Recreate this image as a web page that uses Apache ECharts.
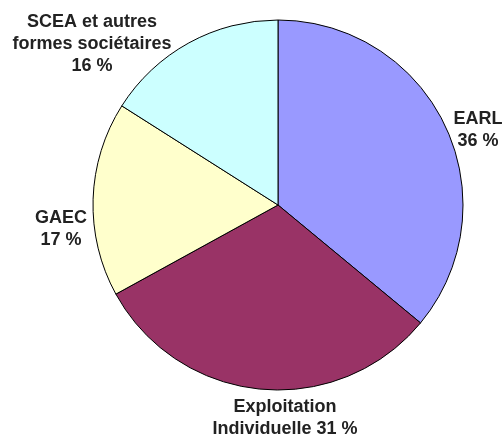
<!DOCTYPE html>
<html>
<head>
<meta charset="utf-8">
<script src="https://cdn.jsdelivr.net/npm/echarts@6/dist/echarts.min.js"></script>
<style>
  html, body { margin: 0; padding: 0; background: #fff; }
  #chart { width: 503px; height: 437px; }
</style>
</head>
<body>
<div id="chart"></div>
<script>
// données
var categories = ["EARL", "Exploitation\nIndividuelle", "GAEC", "SCEA et autres\nformes sociétaires"];
var values = [36, 31, 17, 16];
var colors = ["#9999FF", "#993366", "#FFFFCC", "#CCFFFF"];

// position des étiquettes (centre du bloc de texte)
var labelPos = [
  { x: 478, y: 130 },
  { x: 285, y: 418 },
  { x: 61, y: 229 },
  { x: 92, y: 44 }
];

var chart = echarts.init(document.getElementById("chart"));
var option = {
  animation: false,
  series: [
    {
      type: "pie",
      center: [278, 205],
      radius: [0, 185],
      startAngle: 90,
      clockwise: true,
      avoidLabelOverlap: false,
      data: categories.map(function (c, i) {
        return { name: c, value: values[i], itemStyle: { color: colors[i] } };
      }),
      itemStyle: { borderColor: "#000", borderWidth: 1 },
      label: {
        show: true,
        position: "outside",
        alignTo: "none",
        overflow: "none",
        bleedMargin: 0,
        formatter: function (p) {
          if (p.dataIndex === 1) return "Exploitation\nIndividuelle " + p.value + " %";
          return p.name + "\n" + p.value + " %";
        },
        fontFamily: "Liberation Sans, Arial, sans-serif",
        fontWeight: "bold",
        fontSize: 18,
        lineHeight: 22,
        color: "#222",
        align: "center"
      },
      labelLine: { show: false },
      labelLayout: function (params) {
        var p = labelPos[params.dataIndex];
        return { x: p.x, y: p.y, align: "center", verticalAlign: "middle", hideOverlap: false };
      }
    }
  ]
};
chart.setOption(option);
</script>
</body>
</html>
